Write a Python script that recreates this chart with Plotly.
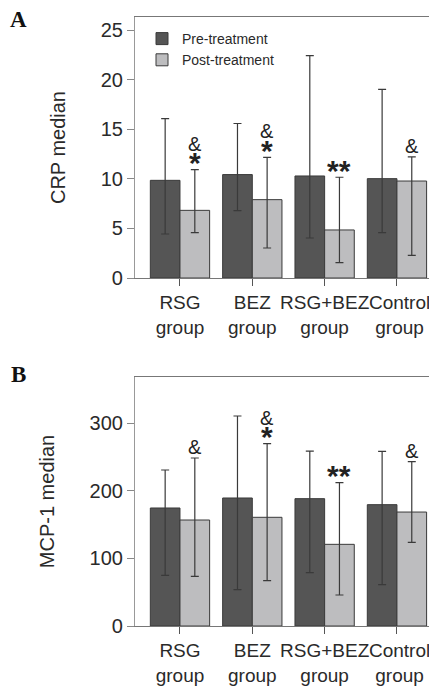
import plotly.graph_objects as go

# ---- data ----
groups = ["RSG<br>group", "BEZ<br>group", "RSG+BEZ<br>group", "&nbsp;Control<br>&nbsp;group"]
series_names = ["Pre-treatment", "Post-treatment"]

crp_pre = [9.86, 10.44, 10.30, 10.03]
crp_pre_hi = [16.1, 15.6, 22.45, 19.05]
crp_pre_lo = [4.44, 6.8, 4.04, 4.58]
crp_post = [6.83, 7.91, 4.85, 9.79]
crp_post_hi = [10.94, 12.18, 10.17, 12.22]
crp_post_lo = [4.58, 3.03, 1.55, 2.29]

mcp_pre = [174.7, 189.5, 188.5, 179.6]
mcp_pre_hi = [230.9, 310.9, 259.0, 258.5]
mcp_pre_lo = [75.0, 53.8, 78.9, 61.2]
mcp_post = [156.9, 160.9, 120.9, 168.7]
mcp_post_hi = [248.7, 269.9, 212.2, 243.3]
mcp_post_lo = [73.5, 67.1, 45.9, 123.8]

crp_marks = [["*", "&"], ["*", "&"], ["**"], ["&"]]
mcp_marks = [["&"], ["*", "&"], ["**"], ["&"]]

crp_ticks = [0, 5, 10, 15, 20, 25]
mcp_ticks = [0, 100, 200, 300]

# ---- style ----
PRE_COLOR = "#555555"
POST_COLOR = "#bdbdbf"
EDGE = "#3a3a3a"
ERR = "#3a3a3a"
FONT = "Liberation Sans, Arial, sans-serif"
TXT = "#2a2a2a"
OFF = 8  # page body margin
W, H = 437 - OFF, 692 - OFF
BARGAP = 0.18
xpos = list(range(len(groups)))
post_off = (1 - BARGAP) / 4


def px(v):
    return (v - OFF) / W


def py(v):
    return 1 - (v - OFF) / H


fig = go.Figure()


def add_panel(pre, pre_hi, pre_lo, post, post_hi, post_lo, xa, ya, legend):
    for vals, hi, lo, col, name in [
        (pre, pre_hi, pre_lo, PRE_COLOR, series_names[0]),
        (post, post_hi, post_lo, POST_COLOR, series_names[1]),
    ]:
        fig.add_trace(go.Bar(
            x=xpos, y=vals, name=name, xaxis=xa, yaxis=ya,
            marker=dict(color=col, line=dict(color=EDGE, width=1)),
            error_y=dict(type="data", symmetric=False,
                         array=[h - v for h, v in zip(hi, vals)],
                         arrayminus=[v - l for v, l in zip(vals, lo)],
                         color=ERR, thickness=1.2, width=4),
            showlegend=legend, legendgroup=name,
        ))


add_panel(crp_pre, crp_pre_hi, crp_pre_lo, crp_post, crp_post_hi, crp_post_lo, "x", "y", True)
add_panel(mcp_pre, mcp_pre_hi, mcp_pre_lo, mcp_post, mcp_post_hi, mcp_post_lo, "x2", "y2", False)

annotations = []


def add_marks(marks, tops, xr, yr):
    for i, (ms, top) in enumerate(zip(marks, tops)):
        shift = 0
        for k, m in enumerate(ms):
            if "*" in m:
                ys = shift + 7
                size = 30
                txt = "<b>" + m + "</b>"
                shift += 15
            else:
                ys = shift + 11
                size = 20
                txt = m
                shift += 15
            annotations.append(dict(
                x=xpos[i] + post_off, y=top, xref=xr, yref=yr,
                text=txt, showarrow=False, yanchor="middle", yshift=ys,
                font=dict(family=FONT, size=size, color="#222222"),
            ))


add_marks(crp_marks, crp_post_hi, "x", "y")
add_marks(mcp_marks, mcp_post_hi, "x2", "y2")

for lab, yy in [("A", 19), ("B", 374)]:
    annotations.append(dict(x=px(18), y=py(yy), xref="paper", yref="paper", text="<b>" + lab + "</b>",
                            xanchor="center", yanchor="middle", showarrow=False,
                            font=dict(family="Liberation Serif, Times New Roman, serif",
                                      size=23, color="#111111")))

xdom = [px(135), px(436)]
xr = [-0.622, 3.54]

xaxis_common = dict(
    domain=xdom, range=xr, tickmode="array", tickvals=xpos, ticktext=groups,
    tickangle=0, automargin=False,
    ticks="outside", ticklen=7, tickcolor="#555555", tickwidth=1,
    showline=True, linecolor="#777777", linewidth=1.2, mirror=True,
    showgrid=False, zeroline=False,
    tickfont=dict(family=FONT, size=19, color=TXT),
)
yaxis_common = dict(
    ticks="outside", ticklen=7, tickcolor="#888888", tickwidth=1, automargin=False,
    showline=True, linecolor="#999999", linewidth=1.2, mirror=True,
    showgrid=False, zeroline=False,
    tickfont=dict(family=FONT, size=20, color=TXT),
    title_font=dict(family=FONT, size=20, color=TXT),
)

fig.update_layout(
    width=W, height=H,
    margin=dict(l=0, r=0, t=0, b=0, autoexpand=False),
    paper_bgcolor="white", plot_bgcolor="white",
    barmode="group", bargap=BARGAP, bargroupgap=0,
    xaxis=dict(**xaxis_common, anchor="y"),
    xaxis2=dict(**xaxis_common, anchor="y2"),
    yaxis=dict(**yaxis_common, domain=[py(278), py(17)], range=[0, 26.35],
               tickvals=crp_ticks, anchor="x",
               title=dict(text="CRP median", standoff=29)),
    yaxis2=dict(**yaxis_common, domain=[py(626), py(377)], range=[0, 368.6],
                tickvals=mcp_ticks, anchor="x2",
                title=dict(text="MCP-1 median", standoff=29)),
    legend=dict(x=px(142), y=py(23), xanchor="left", yanchor="top",
                font=dict(family=FONT, size=14, color=TXT), bgcolor="rgba(0,0,0,0)",
                tracegroupgap=0),
    annotations=annotations,
    font=dict(family=FONT, color=TXT),
)

fig.write_html("out.html")
